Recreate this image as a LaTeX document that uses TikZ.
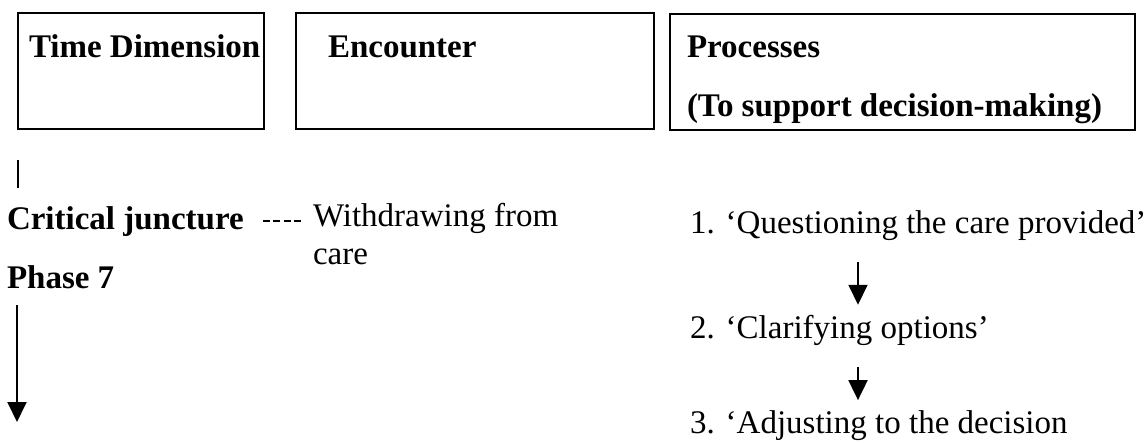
\documentclass[tikz,border=0pt]{standalone}
\usepackage{fontspec}
\setmainfont{Liberation Serif}
\usetikzlibrary{arrows.meta}
\begin{document}
\begin{tikzpicture}[x=1pt,y=-1pt,
  every node/.style={inner sep=0pt,outer sep=0pt},
  txt/.style={anchor=base west,font=\fontsize{33}{40}\selectfont},
  head/.style={txt,font=\fontsize{33}{40}\selectfont\bfseries},
  frame/.style={draw,line width=1.8pt,anchor=north west},
  arr/.style={line width=1.9pt,-{Triangle[width=19pt,length=20pt]}},
  dashlink/.style={line width=1.9pt,dash pattern=on 7pt off 3.4pt}]
\useasboundingbox (0,0) rectangle (1146,442);

% column header boxes
\node[frame,minimum width=246pt,minimum height=116pt] (box1) at (18,13) {};
\node[frame,minimum width=358pt,minimum height=116pt] (box2) at (296,13) {};
\node[frame,minimum width=465pt,minimum height=116pt] (box3) at (670,14) {};
\node[head] (h1) at (29,57) {Time Dimension};
\node[head] (h2) at (328,57) {Encounter};
\node[head] (h3a) at (687,57) {Processes};
\node[head] (h3b) at (687,116) {(To support decision-making)};

% time dimension column
\coordinate (tickA) at (18,160);
\coordinate (tickB) at (18,188);
\draw[line width=1.9pt] (tickA) -- (tickB);
\node[head] (crit) at (7,229) {Critical juncture};
\node[head] (phase) at (7,288) {Phase 7};
\coordinate (tend) at (17,422);
\draw[arr,shorten <=17pt] (phase.south -| tend) -- (tend);

% encounter column
\node[txt] (wd1) at (313,226) {Withdrawing from};
\node[txt] (wd2) at (313,264) {care};
\draw[dashlink,shorten <=19pt,shorten >=12pt] (crit.east) -- (crit.east -| wd1.west);

% processes column
\node[txt] (q1) at (690,233) {1. ‘Questioning the care provided’};
\node[txt] (q2) at (690,338) {2. ‘Clarifying options’};
\node[txt] (q3) at (690,433) {3. ‘Adjusting to the decision};
\coordinate (cx) at (858,0);
\draw[arr,shorten <=22pt,shorten >=10pt] (q1.south -| cx) -- (q2.north -| cx);
\draw[arr,shorten <=22pt,shorten >=10pt] (q2.south -| cx) -- (q3.north -| cx);
\end{tikzpicture}
\end{document}
